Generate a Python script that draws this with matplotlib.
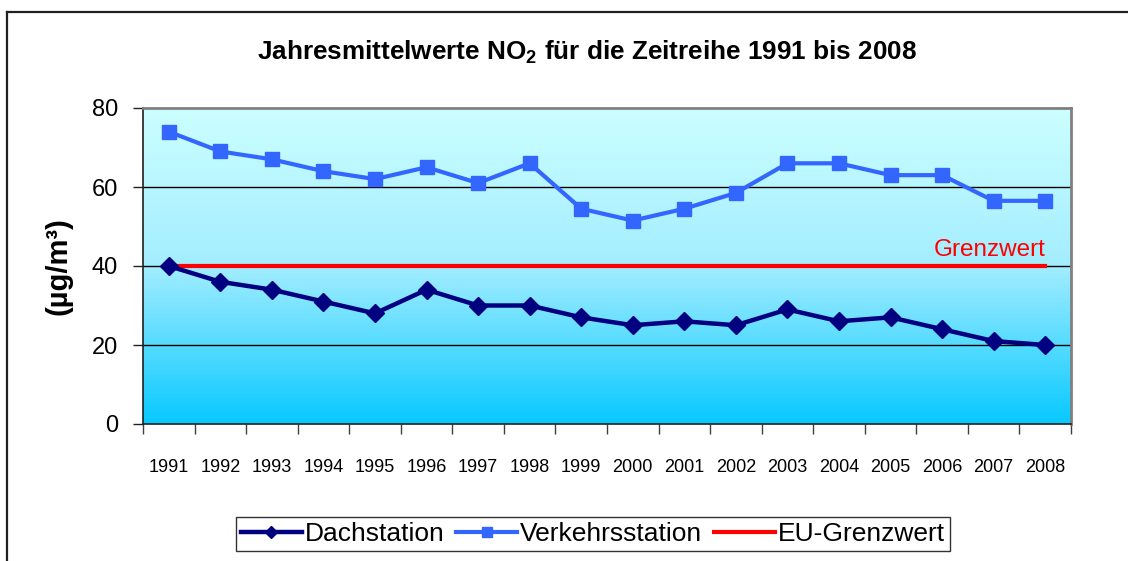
import matplotlib
matplotlib.use("Agg")
import matplotlib.pyplot as plt
import numpy as np
from matplotlib.colors import LinearSegmentedColormap
from matplotlib.lines import Line2D

years = ["1991", "1992", "1993", "1994", "1995", "1996", "1997", "1998", "1999",
         "2000", "2001", "2002", "2003", "2004", "2005", "2006", "2007", "2008"]
dachstation = [40, 36, 34, 31, 28, 34, 30, 30, 27, 25, 26, 25, 29, 26, 27, 24, 21, 20]
verkehrsstation = [74, 69, 67, 64, 62, 65, 61, 66, 54.5, 51.5, 54.5, 58.5, 66, 66, 63, 63, 56.5, 56.5]
grenzwert = [40] * len(years)
yticks = [0, 20, 40, 60, 80]

plt.rcParams['font.family'] = ['Liberation Sans', 'DejaVu Sans']
plt.rcParams['mathtext.fontset'] = 'custom'
plt.rcParams['mathtext.rm'] = 'Liberation Sans'
plt.rcParams['mathtext.bf'] = 'Liberation Sans:bold'
narrow = ['Liberation Sans Narrow', 'Liberation Sans', 'DejaVu Sans']

W, H = 1128, 561
fig = plt.figure(figsize=(W / 100, H / 100), dpi=100)
fig.patch.set_facecolor('white')

# outer frame
fig.add_artist(Line2D([7 / W, 7 / W], [0, 1 - 12 / H], transform=fig.transFigure,
                      color='#202020', lw=1.6))
fig.add_artist(Line2D([7 / W, 1], [1 - 12 / H, 1 - 12 / H], transform=fig.transFigure,
                      color='#202020', lw=1.6))

left, right, top, bottom = 143, 1071, 108, 424
ax = fig.add_axes([left / W, 1 - bottom / H, (right - left) / W, (bottom - top) / H])

x = np.arange(len(years))

# gradient background (light cyan at top, deeper sky blue at bottom)
cmap = LinearSegmentedColormap.from_list('bg', ['#CCFFFF', '#A3EDFF', '#08C9FF'])
grad = np.linspace(0, 1, 256).reshape(-1, 1)
ax.imshow(grad, aspect='auto', cmap=cmap, extent=[-0.5, len(years) - 0.5, 0, 80],
          origin='upper', zorder=0, vmin=0, vmax=1)

ax.set_xlim(-0.5, len(years) - 0.5)
ax.set_ylim(0, 80)

for yv in [20, 40, 60]:
    ax.axhline(yv, color='black', lw=1.0, zorder=1)

ax.plot(x, grenzwert, color='#FF0000', lw=3, marker='|', markersize=3,
        markeredgewidth=1.2, zorder=3, label='EU-Grenzwert')
ax.plot(x, verkehrsstation, color='#3366FF', lw=3, marker='s', markersize=10,
        zorder=4, label='Verkehrsstation')
ax.plot(x, dachstation, color='#000080', lw=3.2, marker='D', markersize=9,
        zorder=5, label='Dachstation')

ax.text(len(years) - 1, 41.2, 'Grenzwert', color='#FF0000', ha='right', va='bottom',
        fontsize=17.5, family=narrow)

# ticks
ax.set_xticks(np.arange(-0.5, len(years), 1))
ax.set_xticklabels([])
ax.set_xticks(x, minor=True)
ax.set_xticklabels(years, minor=True, fontsize=13, family=narrow)
ax.tick_params(axis='x', which='major', length=7, width=1, color='#404040', direction='out')
ax.tick_params(axis='x', which='minor', length=0, pad=25)
ax.set_yticks(yticks)
ax.set_yticklabels([str(v) for v in yticks], fontsize=17)
ax.tick_params(axis='y', length=7, width=1, color='#202020', direction='out', pad=11)

for s in ['top', 'right']:
    ax.spines[s].set_color('#808080')
    ax.spines[s].set_linewidth(2)
for s in ['left', 'bottom']:
    ax.spines[s].set_color('#202020')
    ax.spines[s].set_linewidth(1.2)

ax.set_ylabel('(µg/m³)', fontsize=21, fontweight='bold')
ax.yaxis.set_label_coords((72 - left) / (right - left), 0.5)

fig.text(587 / W, 1 - 52 / H, r'Jahresmittelwerte NO$_\mathbf{2}$ für die Zeitreihe 1991 bis 2008',
         ha='center', va='center', fontsize=18.8, fontweight='bold')

handles, labels = ax.get_legend_handles_labels()
order = [2, 1, 0]
leg = fig.legend([handles[i] for i in order], [labels[i] for i in order],
                 loc='center', bbox_to_anchor=((238 + 948) / 2 / W, 1 - 534 / H),
                 ncol=3, fontsize=19, frameon=True, fancybox=False, edgecolor='black',
                 handlelength=2.3, handletextpad=0.12, columnspacing=0.45,
                 borderpad=0.2, borderaxespad=0, markerscale=0.7)
leg.get_frame().set_linewidth(1.0)

fig.savefig('out.png', dpi=100)
